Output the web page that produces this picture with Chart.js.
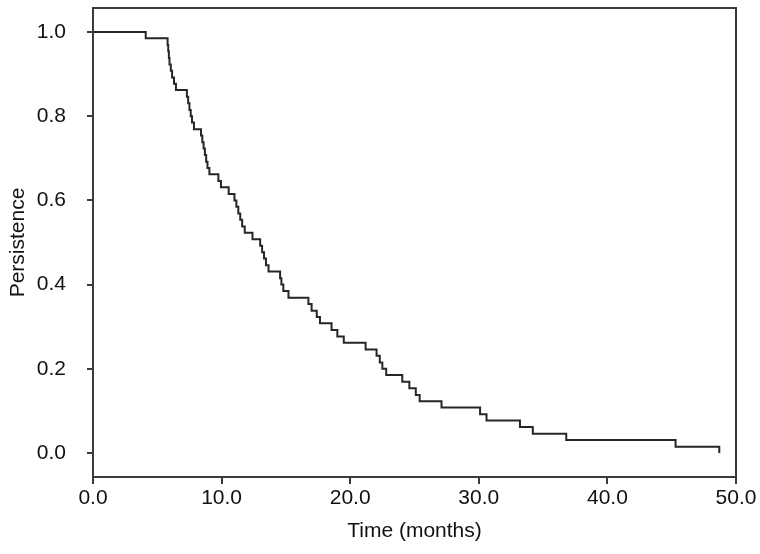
<!DOCTYPE html>
<html>
<head>
<meta charset="utf-8">
<script src="https://cdn.jsdelivr.net/npm/chart.js@4"></script>
<style>
  html, body { margin: 0; padding: 0; background: #fff; }
  #wrap { width: 760px; height: 554px; }
</style>
</head>
<body>
<div id="wrap"><canvas id="chart"></canvas></div>
<script>
// event times (months) and persistence after each event
const times = [0, 4.1, 5.8, 5.85, 5.9, 5.95, 6.05, 6.15, 6.3, 6.45,
  7.3, 7.4, 7.5, 7.6, 7.7, 7.85, 8.4, 8.5, 8.6, 8.7, 8.8, 8.9, 9.05,
  9.75, 9.95, 10.55, 11.0, 11.15, 11.3, 11.45, 11.6, 11.8, 12.4,
  13.0, 13.15, 13.3, 13.45, 13.65, 14.55, 14.65, 14.8, 15.2,
  16.75, 17.0, 17.4, 17.65, 18.55, 19.0, 19.5, 21.2,
  22.05, 22.3, 22.5, 22.8, 24.05, 24.6, 25.1, 25.4, 27.1,
  30.1, 30.6, 33.2, 34.2, 36.8, 45.3, 48.7]
const persistence = [1.0, 0.985, 0.969, 0.954, 0.938, 0.923, 0.908, 0.892, 0.877, 0.862,
  0.846, 0.831, 0.815, 0.800, 0.785, 0.769, 0.754, 0.738, 0.723, 0.708, 0.692, 0.677, 0.662,
  0.646, 0.631, 0.615, 0.600, 0.585, 0.569, 0.554, 0.538, 0.523, 0.508,
  0.492, 0.477, 0.462, 0.446, 0.431, 0.415, 0.400, 0.385, 0.369,
  0.354, 0.338, 0.323, 0.308, 0.292, 0.277, 0.262, 0.246,
  0.231, 0.215, 0.200, 0.185, 0.169, 0.154, 0.138, 0.123, 0.108,
  0.092, 0.077, 0.062, 0.046, 0.031, 0.015, 0.0]
const xTicks = [0, 10, 20, 30, 40, 50]
const yTicks = [0, 0.2, 0.4, 0.6, 0.8, 1.0]

const points = times.map((t, i) => ({ x: t, y: persistence[i] }))

const frame = {
  id: "frame",
  afterDraw(chart) {
    const { ctx, chartArea: a } = chart
    ctx.save()
    ctx.strokeStyle = "#3a3a3a"
    ctx.lineWidth = 2
    ctx.strokeRect(a.left, a.top, a.right - a.left, a.bottom - a.top)
    ctx.restore()
  }
}

const font = { family: "'Liberation Sans', Arial, sans-serif", size: 21 }

new Chart(document.getElementById("chart"), {
  type: "line",
  data: {
    datasets: [{
      data: points,
      stepped: "before",
      borderColor: "#262626",
      borderWidth: 2,
      pointRadius: 0,
      fill: false,
    }],
  },
  options: {
    responsive: true,
    maintainAspectRatio: false,
    animation: false,
    layout: { padding: { top: 8, right: 24, left: 0, bottom: 0 } },
    plugins: { legend: { display: false }, tooltip: { enabled: false } },
    scales: {
      x: {
        type: "linear",
        min: 0,
        max: 50,
        afterBuildTicks: (axis) => { axis.ticks = xTicks.map(v => ({ value: v })) },
        afterFit: (axis) => { axis.height = 77 },
        ticks: { color: "#111", font, padding: 2, maxRotation: 0, callback: v => v.toFixed(1) },
        grid: { drawOnChartArea: false, tickLength: 7, color: "#3a3a3a", lineWidth: 2 },
        border: { display: false },
        title: { display: true, text: "Time (months)", color: "#111", font, padding: { top: 0, bottom: 10 } },
      },
      y: {
        min: -0.057,
        max: 1.057,
        afterBuildTicks: (axis) => { axis.ticks = yTicks.map(v => ({ value: v })) },
        afterFit: (axis) => { axis.width = 93; axis.paddingTop = 0; axis.paddingBottom = 0 },
        ticks: { color: "#111", font, padding: 21, callback: v => v.toFixed(1) },
        grid: { drawOnChartArea: false, tickLength: 6, color: "#3a3a3a", lineWidth: 2 },
        border: { display: false },
        title: { display: true, text: "Persistence", color: "#111", font, padding: { top: 6, bottom: 0 } },
      },
    },
  },
  plugins: [frame],
})
</script>
</body>
</html>
